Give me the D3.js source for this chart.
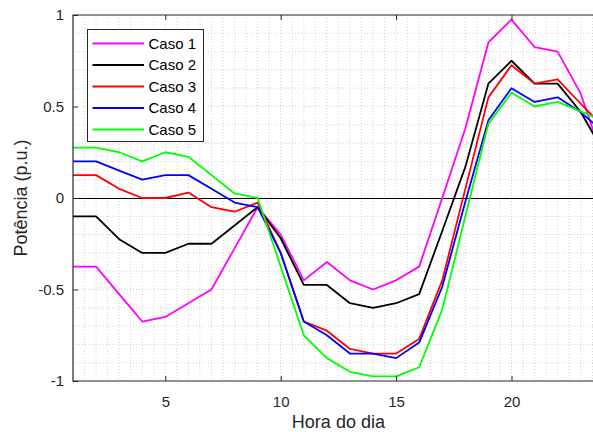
<!DOCTYPE html>
<html>
<head>
<meta charset="utf-8">
<script src="https://cdn.jsdelivr.net/npm/d3@7"></script>
<style>
	body { margin: 0; background: #fff; }
	svg { display: block; font-family: "Liberation Sans", Arial, sans-serif; }
</style>
</head>
<body>
<svg id="chart" width="593" height="432"></svg>
<script>

// hours of the day (1..24)
const hours = d3.range(1, 25);

// power per case (p.u.)
const caso1 = [-0.375, -0.375, -0.525, -0.675, -0.65, -0.575, -0.5, -0.275, -0.05, -0.2, -0.45, -0.35,
			   -0.45, -0.5, -0.45, -0.375, 0.0, 0.38, 0.85, 0.975, 0.825, 0.8, 0.57, 0.2];
const caso2 = [-0.1, -0.1, -0.225, -0.3, -0.3, -0.25, -0.25, -0.15, -0.05, -0.22, -0.475, -0.475,
			   -0.575, -0.6, -0.575, -0.525, -0.18, 0.17, 0.625, 0.75, 0.625, 0.625, 0.47, 0.25];
const caso3 = [0.125, 0.125, 0.05, 0.0, 0.0, 0.03, -0.05, -0.075, -0.025, -0.3, -0.675, -0.725,
			   -0.825, -0.85, -0.85, -0.77, -0.45, 0.05, 0.55, 0.725, 0.625, 0.648, 0.515, 0.385];
const caso4 = [0.2, 0.2, 0.15, 0.1, 0.125, 0.125, 0.05, -0.025, -0.05, -0.3, -0.675, -0.75,
			   -0.85, -0.85, -0.875, -0.79, -0.485, -0.02, 0.425, 0.6, 0.525, 0.55, 0.468, 0.36];
const caso5 = [0.275, 0.275, 0.25, 0.2, 0.25, 0.225, 0.125, 0.025, 0.0, -0.375, -0.75, -0.875,
			   -0.95, -0.975, -0.975, -0.925, -0.61, -0.1, 0.405, 0.575, 0.5, 0.525, 0.473, 0.42];

const seriesNames = ["Caso 1", "Caso 2", "Caso 3", "Caso 4", "Caso 5"];
const seriesValues = [caso1, caso2, caso3, caso4, caso5];
const seriesColors = ["#ff00ff", "#000000", "#ff0000", "#0000ff", "#00ff00"];

const xTicks = [5, 10, 15, 20];
const yTicks = [-1, -0.5, 0, 0.5, 1];
const yTickLabels = ["-1", "-0.5", "0", "0.5", "1"];

const xLabel = "Hora do dia";
const yLabel = "Potência (p.u.)";

const axisColor = "#262626";

const margin = {left: 73, top: 15, right: 603.8, bottom: 381};

const svg = d3.select("#chart");

const x = d3.scaleLinear()
			.domain([1, 24])
			.range([margin.left, margin.right]);

const y = d3.scaleLinear()
			.domain([-1, 1])
			.range([margin.bottom, margin.top]);

// Minor dotted grid
const grid = svg.append("g").classed("grid", true);

grid.selectAll("line.gx")
	.data(d3.range(1.5, 24, 0.5))
	.join("line")
	.classed("gx", true)
	.attr("x1", d => x(d)).attr("x2", d => x(d))
	.attr("y1", margin.top).attr("y2", margin.bottom)
	.attr("stroke", "#d2d2d2")
	.attr("stroke-dasharray", "1,2");

grid.selectAll("line.gy")
	.data(d3.range(-9, 10).map(d => d / 10))
	.join("line")
	.classed("gy", true)
	.attr("x1", margin.left).attr("x2", margin.right)
	.attr("y1", d => y(d)).attr("y2", d => y(d))
	.attr("stroke", "#d2d2d2")
	.attr("stroke-dasharray", "1,2");

// Zero reference line (snapped to the pixel grid so it stays crisp black)
const y0 = Math.round(y(0)) + 0.5;
svg.append("line")
	.attr("x1", margin.left).attr("x2", margin.right)
	.attr("y1", y0).attr("y2", y0)
	.attr("stroke", "#000")
	.attr("stroke-width", 1)
	.attr("shape-rendering", "crispEdges");

// Series
const line = d3.line()
			   .x((d, i) => x(hours[i]))
			   .y(d => y(d));

svg.append("g")
	.selectAll("path")
	.data(seriesValues)
	.join("path")
	.attr("d", line)
	.attr("fill", "none")
	.attr("stroke", (d, i) => seriesColors[i])
	.attr("stroke-width", 1.8)
	.attr("stroke-linejoin", "round");

// Axes (ticks inward, MATLAB style)
const xAxis = svg.append("g")
	.attr("transform", "translate(0," + margin.bottom + ")")
	.call(d3.axisBottom(x)
		.tickValues(xTicks)
		.tickSizeInner(-5)
		.tickSizeOuter(0)
		.tickPadding(15));

const xTop = svg.append("g")
	.attr("transform", "translate(0," + margin.top + ")")
	.call(d3.axisTop(x)
		.tickValues(xTicks)
		.tickSizeInner(-5)
		.tickSizeOuter(0)
		.tickFormat(() => ""));

const yAxis = svg.append("g")
	.attr("transform", "translate(" + margin.left + ",0)")
	.call(d3.axisLeft(y)
		.tickValues(yTicks)
		.tickSizeInner(-5)
		.tickSizeOuter(0)
		.tickPadding(9)
		.tickFormat((d, i) => yTickLabels[i]));

[xAxis, xTop, yAxis].forEach(a => {
	a.select(".domain").remove();
	a.selectAll("line").attr("stroke", axisColor);
	a.selectAll("text")
	 .attr("fill", axisColor)
	 .style("font-size", "15px")
	 .style("font-family", "'Liberation Sans', Arial, sans-serif");
});

// Frame
svg.append("path")
	.attr("d", "M" + margin.right + "," + margin.top + "H" + margin.left +
			   "V" + margin.bottom + "H" + margin.right)
	.attr("fill", "none")
	.attr("stroke", axisColor)
	.attr("stroke-width", 1.2);

// Axis labels
svg.append("text")
	.attr("x", (margin.left + margin.right) / 2)
	.attr("y", 428)
	.attr("text-anchor", "middle")
	.attr("fill", axisColor)
	.style("font-size", "18px")
	.text(xLabel);

svg.append("text")
	.attr("transform", "translate(27," + ((margin.top + margin.bottom) / 2) + ") rotate(-90)")
	.attr("text-anchor", "middle")
	.attr("fill", axisColor)
	.style("font-size", "18px")
	.text(yLabel);

// Legend
const legend = svg.append("g").attr("transform", "translate(87.5,29.5)");

legend.append("rect")
	.attr("width", 116)
	.attr("height", 112)
	.attr("fill", "#fff")
	.attr("stroke", axisColor)
	.attr("stroke-width", 1);

const item = legend.selectAll("g.item")
	.data(seriesNames)
	.join("g")
	.classed("item", true)
	.attr("transform", (d, i) => "translate(0," + (14 + i * 21.5) + ")");

item.append("line")
	.attr("x1", 5).attr("x2", 56.5)
	.attr("stroke", (d, i) => seriesColors[i])
	.attr("stroke-width", 1.8);

item.append("text")
	.attr("x", 61)
	.attr("dy", "0.35em")
	.attr("fill", "#000")
	.style("font-size", "15px")
	.text(d => d);

</script>
</body>
</html>
